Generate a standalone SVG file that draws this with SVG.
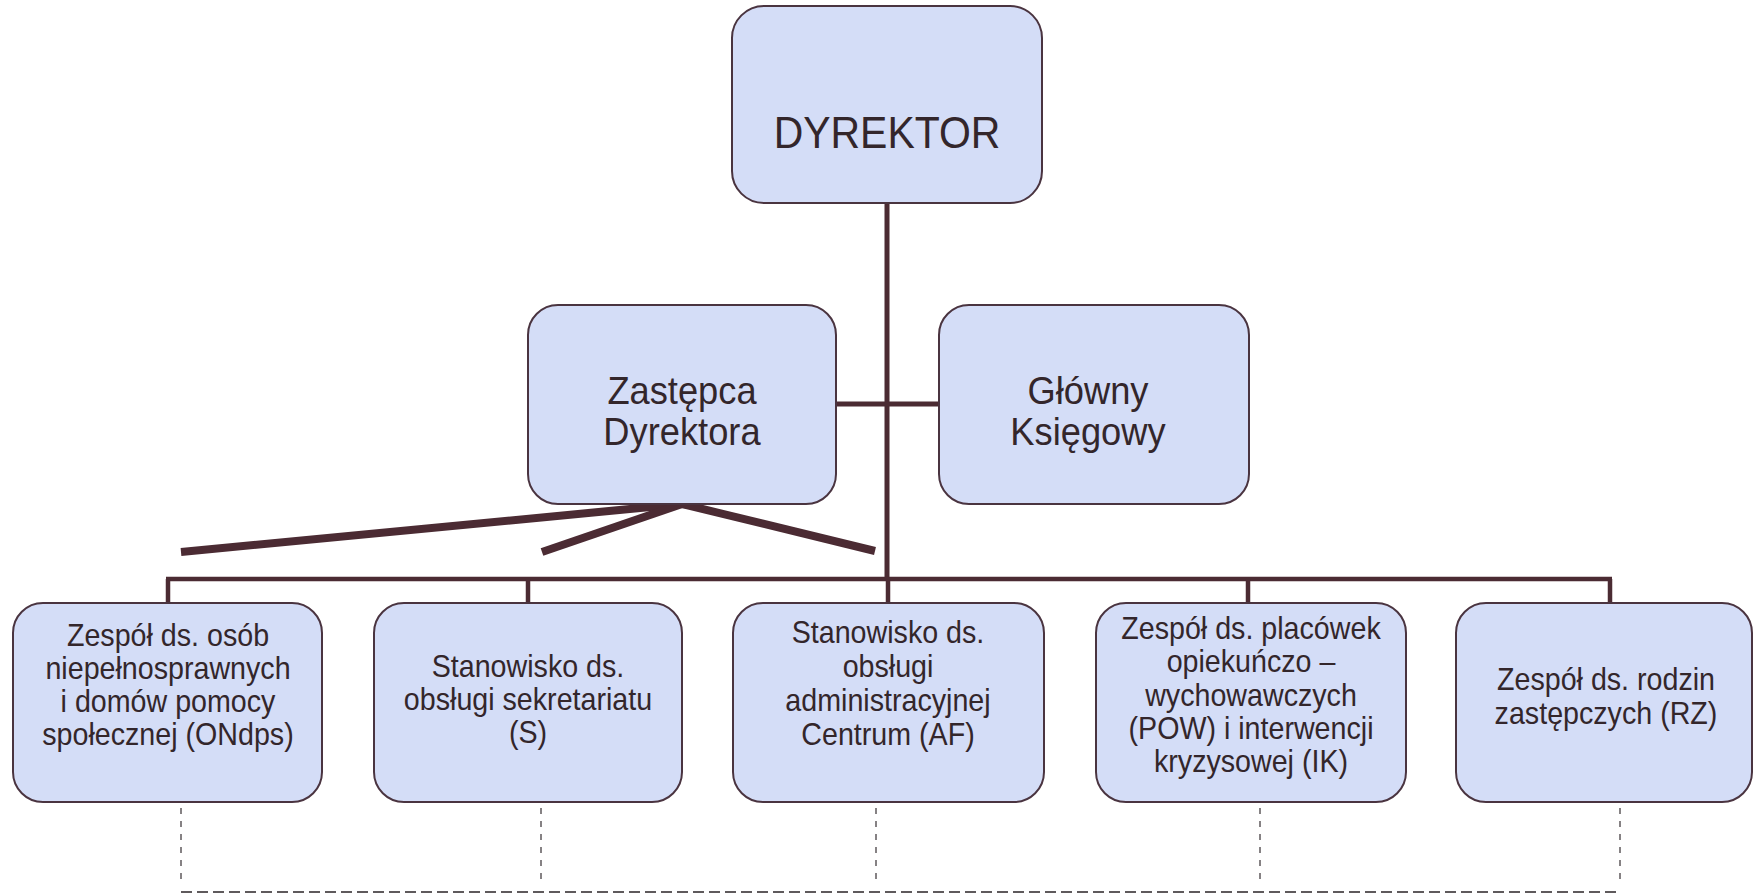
<svg xmlns="http://www.w3.org/2000/svg" width="1753" height="894" viewBox="0 0 1753 894">
<style>
.box{fill:#d4ddf7;stroke:#4a3440;stroke-width:2}
.t{font-family:"Liberation Sans",Arial,sans-serif;fill:#33262b;text-anchor:middle}
.s{font-size:32px}
.m{font-size:38px}
.solid{stroke:#4b2b33;fill:none;stroke-linecap:butt}
.dash{stroke:#5f5a5c;fill:none}
</style>
<rect width="1753" height="894" fill="#ffffff"/>
<g id="connectors">
<line class="solid" x1="887" y1="203" x2="887" y2="581" stroke-width="5"/>
<line class="solid" x1="836" y1="404" x2="939" y2="404" stroke-width="5"/>
<line class="solid" x1="166" y1="579" x2="1612" y2="579" stroke-width="4.5"/>
<line class="solid" x1="168" y1="579" x2="168" y2="603" stroke-width="4.5"/>
<line class="solid" x1="528" y1="579" x2="528" y2="603" stroke-width="4.5"/>
<line class="solid" x1="888" y1="579" x2="888" y2="603" stroke-width="4.5"/>
<line class="solid" x1="1248" y1="579" x2="1248" y2="603" stroke-width="4.5"/>
<line class="solid" x1="1610" y1="579" x2="1610" y2="603" stroke-width="4.5"/>
<line class="solid" x1="181" y1="552" x2="682" y2="504" stroke-width="8"/>
<line class="solid" x1="542" y1="552" x2="682" y2="504" stroke-width="8"/>
<line class="solid" x1="682" y1="504" x2="875" y2="551" stroke-width="8"/>
<g class="dash" stroke-width="1.5" stroke-dasharray="6 7">
<line x1="181" y1="808" x2="181" y2="880"/>
<line x1="541" y1="808" x2="541" y2="880"/>
<line x1="876" y1="808" x2="876" y2="880"/>
<line x1="1260" y1="808" x2="1260" y2="880"/>
<line x1="1620" y1="808" x2="1620" y2="880"/>
</g>
<line class="dash" x1="181" y1="892" x2="1618" y2="892" stroke-width="2" stroke-dasharray="11 5"/>
</g>
<g id="dyrektor">
<rect class="box" x="732" y="6" width="310" height="197" rx="32"/>
<text class="t" transform="translate(887 0) scale(0.91 1)" x="0" y="148" font-size="45">DYREKTOR</text>
</g>
<g id="zastepca">
<rect class="box" x="528" y="305" width="308" height="199" rx="30"/>
<text class="t m" transform="translate(682 0) scale(0.955 1)" x="0" y="404">Zastępca<tspan x="0" dy="41">Dyrektora</tspan></text>
</g>
<g id="ksiegowy">
<rect class="box" x="939" y="305" width="310" height="199" rx="30"/>
<text class="t m" transform="translate(1088 0) scale(0.955 1)" x="0" y="404">Główny<tspan x="0" dy="41">Księgowy</tspan></text>
</g>
<g id="ondps">
<rect class="box" x="13" y="603" width="309" height="199" rx="30"/>
<text class="t s" transform="translate(168 0) scale(0.895 1)" x="0" y="646">Zespół ds. osób<tspan x="0" dy="33">niepełnosprawnych</tspan><tspan x="0" dy="33">i domów pomocy</tspan><tspan x="0" dy="33">społecznej (ONdps)</tspan></text>
</g>
<g id="sekretariat">
<rect class="box" x="374" y="603" width="308" height="199" rx="30"/>
<text class="t s" transform="translate(528 0) scale(0.895 1)" x="0" y="677">Stanowisko ds.<tspan x="0" dy="33">obsługi sekretariatu</tspan><tspan x="0" dy="33">(S)</tspan></text>
</g>
<g id="administracja">
<rect class="box" x="733" y="603" width="311" height="199" rx="30"/>
<text class="t s" transform="translate(888 0) scale(0.895 1)" x="0" y="643">Stanowisko ds.<tspan x="0" dy="34">obsługi</tspan><tspan x="0" dy="34">administracyjnej</tspan><tspan x="0" dy="34">Centrum (AF)</tspan></text>
</g>
<g id="placowki">
<rect class="box" x="1096" y="603" width="310" height="199" rx="30"/>
<text class="t s" transform="translate(1251 0) scale(0.895 1)" x="0" y="639">Zespół ds. placówek<tspan x="0" dy="33">opiekuńczo –</tspan><tspan x="0" dy="34">wychowawczych</tspan><tspan x="0" dy="33">(POW) i interwencji</tspan><tspan x="0" dy="33">kryzysowej (IK)</tspan></text>
</g>
<g id="rodziny">
<rect class="box" x="1456" y="603" width="296" height="199" rx="30"/>
<text class="t s" transform="translate(1606 0) scale(0.895 1)" x="0" y="690">Zespół ds. rodzin<tspan x="0" dy="34">zastępczych (RZ)</tspan></text>
</g>
</svg>
